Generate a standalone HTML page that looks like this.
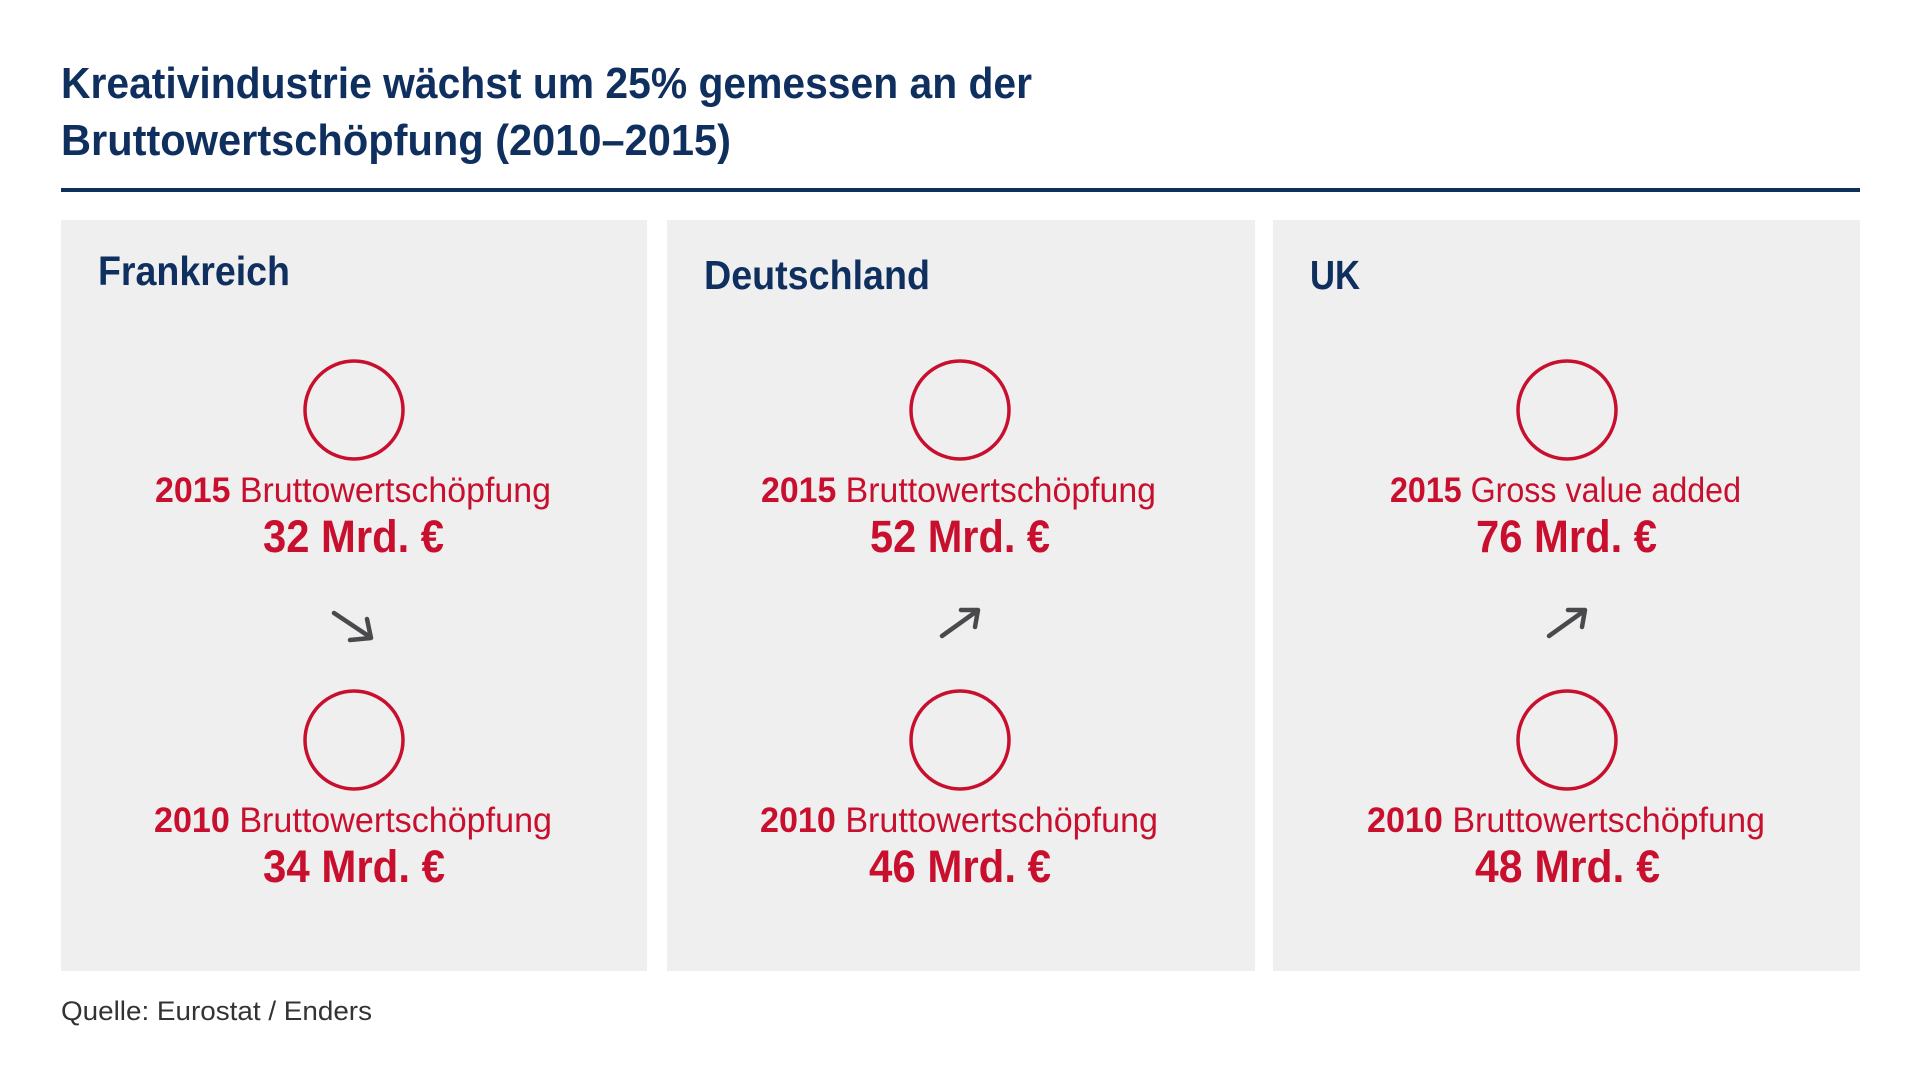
<!DOCTYPE html>
<html><head><meta charset="utf-8"><style>html,body{margin:0;padding:0;background:#fff}svg{display:block}</style></head>
<body>
<svg width="1919" height="1080" viewBox="0 0 1919 1080" xmlns="http://www.w3.org/2000/svg" font-family="Liberation Sans, sans-serif">
<rect width="1919" height="1080" fill="#fff"/>
<g fill="#0f2f5f" font-weight="bold">
<text x="61" y="98" font-size="44" textLength="971" lengthAdjust="spacingAndGlyphs">Kreativindustrie wächst um 25% gemessen an der</text>
<text x="61" y="155" font-size="44" textLength="670" lengthAdjust="spacingAndGlyphs">Bruttowertschöpfung (2010–2015)</text>
</g>
<rect x="61" y="188" width="1799" height="4" fill="#0f2f5f"/>
<rect x="61" y="220" width="586" height="751" fill="#efeff0"/>
<rect x="667" y="220" width="588" height="751" fill="#efeff0"/>
<rect x="1273" y="220" width="587" height="751" fill="#efeff0"/>
<g fill="#0f2f5f" font-size="41" font-weight="bold">
<text x="98" y="285" textLength="192" lengthAdjust="spacingAndGlyphs">Frankreich</text>
<text x="704" y="289" textLength="226" lengthAdjust="spacingAndGlyphs">Deutschland</text>
<text x="1310" y="289" textLength="50" lengthAdjust="spacingAndGlyphs">UK</text>
</g>
<g fill="none" stroke="#c8102e" stroke-width="3.5">
<circle cx="354" cy="410" r="49"/><circle cx="354" cy="740" r="49"/>
<circle cx="960" cy="410" r="49"/><circle cx="960" cy="740" r="49"/>
<circle cx="1567" cy="410" r="49"/><circle cx="1567" cy="740" r="49"/>
</g>
<g fill="#c8102e" font-size="35" text-anchor="start">
<text x="155" y="502" textLength="396" lengthAdjust="spacingAndGlyphs"><tspan font-weight="bold">2015</tspan> Bruttowertschöpfung</text>
<text x="761" y="502" textLength="395" lengthAdjust="spacingAndGlyphs"><tspan font-weight="bold">2015</tspan> Bruttowertschöpfung</text>
<text x="1390" y="502" textLength="351" lengthAdjust="spacingAndGlyphs"><tspan font-weight="bold">2015</tspan> Gross value added</text>
<text x="154" y="832" textLength="398" lengthAdjust="spacingAndGlyphs"><tspan font-weight="bold">2010</tspan> Bruttowertschöpfung</text>
<text x="760" y="832" textLength="398" lengthAdjust="spacingAndGlyphs"><tspan font-weight="bold">2010</tspan> Bruttowertschöpfung</text>
<text x="1367" y="832" textLength="398" lengthAdjust="spacingAndGlyphs"><tspan font-weight="bold">2010</tspan> Bruttowertschöpfung</text>
</g>
<g fill="#c8102e" font-size="45" font-weight="bold">
<text x="263" y="552" textLength="181" lengthAdjust="spacingAndGlyphs">32 Mrd. €</text>
<text x="870" y="552" textLength="180" lengthAdjust="spacingAndGlyphs">52 Mrd. €</text>
<text x="1476" y="552" textLength="181" lengthAdjust="spacingAndGlyphs">76 Mrd. €</text>
<text x="263" y="882" textLength="182" lengthAdjust="spacingAndGlyphs">34 Mrd. €</text>
<text x="869" y="882" textLength="182" lengthAdjust="spacingAndGlyphs">46 Mrd. €</text>
<text x="1475" y="882" textLength="185" lengthAdjust="spacingAndGlyphs">48 Mrd. €</text>
</g>
<g fill="none" stroke="#4a4a4c" stroke-width="4.5" stroke-linecap="round" stroke-linejoin="round">
<path d="M334 613 L370 637 M350 640 L371 638 L367 619"/>
<path d="M942 636 L977 611 M961 610 L978 610 L975 627"/>
<path d="M1549 636 L1584 611 M1568 610 L1585 610 L1582 627"/>
</g>
<text x="61" y="1020" font-size="27" fill="#333" textLength="311" lengthAdjust="spacingAndGlyphs">Quelle: Eurostat / Enders</text>
</svg>
</body></html>
